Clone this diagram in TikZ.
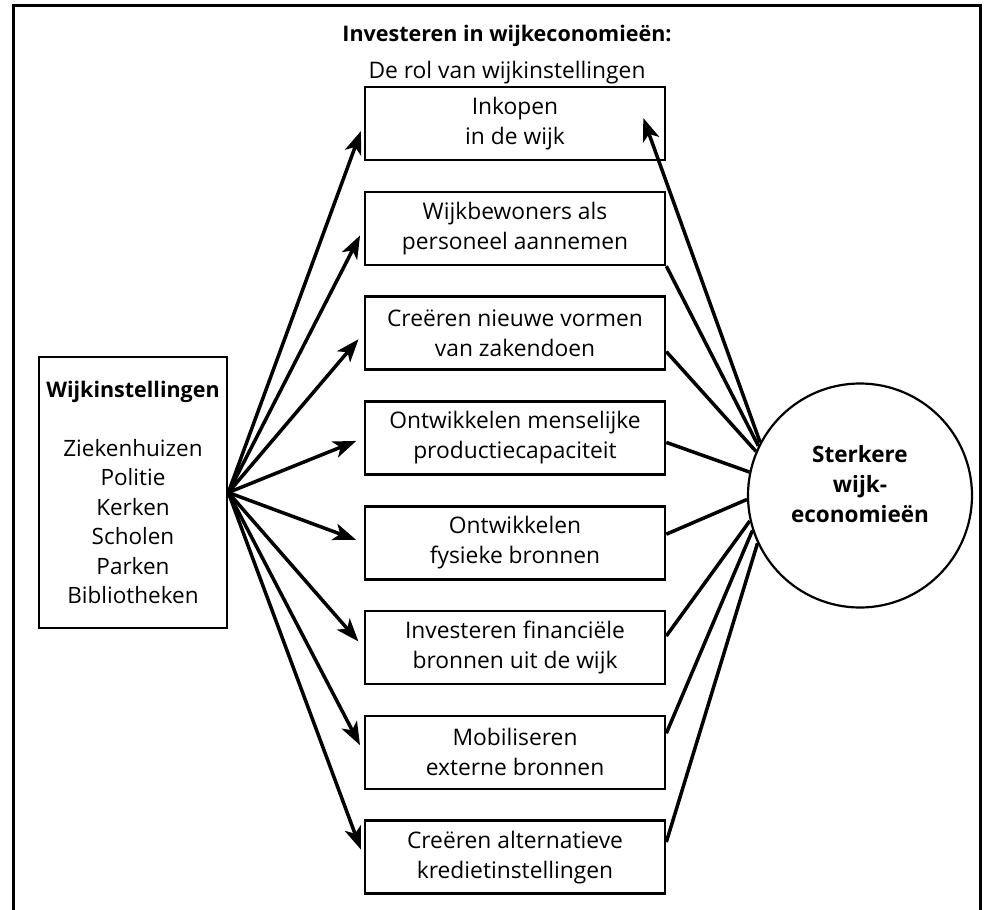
\documentclass[tikz,border=0pt]{standalone}
\usepackage{fontspec}
\setmainfont{Open Sans}
\usetikzlibrary{arrows.meta,calc}
\begin{document}
\begin{tikzpicture}[x=1pt,y=-1pt,
  every node/.style={font=\fontsize{22.8}{30}\selectfont},
  box/.style={draw,line width=2.6pt,minimum width=300pt,minimum height=73pt,align=center,inner sep=0pt},
  conn/.style={line width=3.5pt},
  arr/.style={line width=3.5pt,-{Stealth[length=23pt,width=17pt,inset=6pt]},shorten >=8pt}
]
\useasboundingbox (0,0) rectangle (988,910);
\draw[line width=3pt] (13,925) -- (13,5) -- (980,5) -- (980,925);

\node[font=\fontsize{21.5}{24}\selectfont\bfseries, anchor=base] (title) at (507,41) {Investeren in wijkeconomieën:};
\node[anchor=base] (sub) at (507,78) {De rol van wijkinstellingen};

\node[box] (b1) at (515,123.5) {Inkopen\\in de wijk};
\node[box] (b2) at (515,228.3) {Wijkbewoners als\\personeel aannemen};
\node[box] (b3) at (515,333.1) {Creëren nieuwe vormen\\van zakendoen};
\node[box] (b4) at (515,437.9) {Ontwikkelen menselijke\\productiecapaciteit};
\node[box] (b5) at (515,542.7) {Ontwikkelen\\fysieke bronnen};
\node[box] (b6) at (515,647.5) {Investeren financiële\\bronnen uit de wijk};
\node[box] (b7) at (515,752.3) {Mobiliseren\\externe bronnen};
\node[box] (b8) at (515,857.1) {Creëren alternatieve\\kredietinstellingen};

\node[draw,line width=2.6pt,minimum width=188pt,minimum height=271pt,align=center,inner sep=0pt,
  font=\fontsize{22.5}{29.5}\selectfont] (lb) at (133,492.5)
  {{\fontsize{21.5}{29.5}\selectfont\bfseries Wijkinstellingen}\\[29.5pt]Ziekenhuizen\\Politie\\Kerken\\Scholen\\Parken\\Bibliotheken};

\node[circle,draw,line width=2.2pt,minimum size=224pt,inner sep=0pt,align=center,
  font=\fontsize{22.5}{30}\selectfont\bfseries,text depth=24pt] (c) at (860,495.5) {Sterkere\\wijk-\\economieën};

\foreach \i in {1,...,8} \draw[arr] (lb.east) -- (b\i.west);

\draw[arr,shorten >=0pt] (c.152.3) -- ($(b1.east)+(-23,-5.5)$);
\draw[conn] (b2.south east) -- (c.154.4);
\draw[conn] ($(b3.east)+(0,18.5)$) -- (c.157.4);
\draw[conn] ($(b4.east)+(0,4.5)$) -- (c.168.4);
\draw[conn] ($(b5.east)+(0,-8.5)$) -- (c.182.3);
\draw[conn] ($(b6.east)+(0,-11.5)$) -- (c.193.8);
\draw[conn] ($(b7.east)+(0,-19)$) -- (c.198.2);
\draw[conn] ($(b8.east)+(0,-15)$) -- (c.205.9);
\end{tikzpicture}
\end{document}
